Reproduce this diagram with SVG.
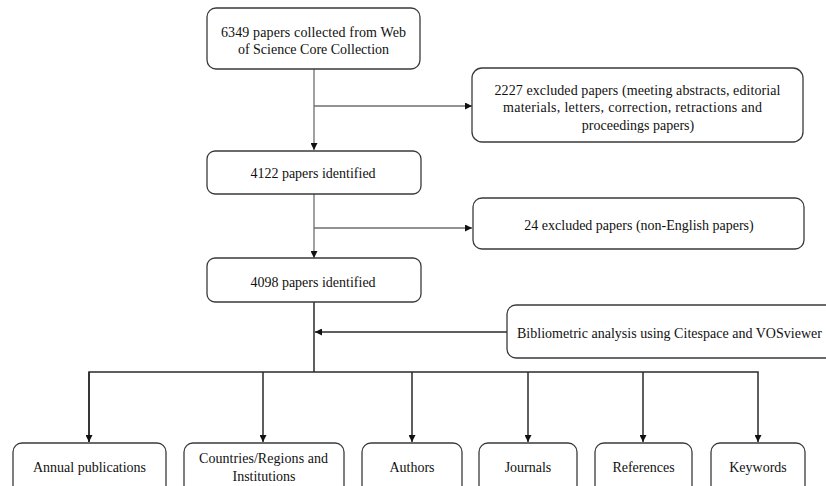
<svg xmlns="http://www.w3.org/2000/svg" width="826" height="486" viewBox="0 0 826 486">
<style>
.box{fill:#fff;stroke:#3a3a3a;stroke-width:1.3}
.t{font-family:"Liberation Serif","Times New Roman",serif;font-size:14px;fill:#111;text-anchor:middle}
.c1{fill:none;stroke:#6e6e6e;stroke-width:1.3}
.c2{fill:none;stroke:#2a2a2a;stroke-width:1.5}
</style>
<defs>
<marker id="ah" viewBox="0 0 10 10" refX="10" refY="5" markerWidth="7" markerHeight="7" markerUnits="userSpaceOnUse" orient="auto">
<path d="M0,0 L10,5 L0,10 z" fill="#111"/>
</marker>
</defs>
<rect width="826" height="486" fill="#fff"/>
<g id="connectors">
<path class="c1" d="M314,69 V150" marker-end="url(#ah)"/>
<path class="c1" d="M314,106 H472" marker-end="url(#ah)"/>
<path class="c1" d="M314,194 V258" marker-end="url(#ah)"/>
<path class="c1" d="M314,228 H472" marker-end="url(#ah)"/>
<path class="c2" d="M314,302 V372"/>
<path class="c2" d="M507,332 H315" marker-end="url(#ah)"/>
<path class="c2" d="M89,442 V372 H758 V442" marker-end="url(#ah)"/>
<path class="c2" d="M263,372 V442" marker-end="url(#ah)"/>
<path class="c2" d="M412,372 V442" marker-end="url(#ah)"/>
<path class="c2" d="M528,372 V442" marker-end="url(#ah)"/>
<path class="c2" d="M643,372 V442" marker-end="url(#ah)"/>
<path class="c2" d="M89,372 V442" marker-end="url(#ah)"/>
</g>
<g id="n1">
<rect class="box" x="207" y="8" width="213" height="61" rx="9"/>
<text class="t" x="313.5" y="37" textLength="185" lengthAdjust="spacing">6349 papers collected from Web</text>
<text class="t" x="313.5" y="54">of Science Core Collection</text>
</g>
<g id="n2">
<rect class="box" x="472" y="68" width="331" height="74" rx="10"/>
<text class="t" x="637.5" y="95" textLength="286" lengthAdjust="spacing">2227 excluded papers (meeting abstracts, editorial</text>
<text class="t" x="632.5" y="112" textLength="259" lengthAdjust="spacing">materials, letters, correction, retractions and</text>
<text class="t" x="638" y="130">proceedings papers)</text>
</g>
<g id="n3">
<rect class="box" x="207" y="151" width="214" height="43" rx="8"/>
<text class="t" x="313" y="178">4122 papers identified</text>
</g>
<g id="n4">
<rect class="box" x="473" y="198" width="331" height="51" rx="9"/>
<text class="t" x="639" y="230">24 excluded papers (non-English papers)</text>
</g>
<g id="n5">
<rect class="box" x="207" y="258" width="214" height="44" rx="8"/>
<text class="t" x="313" y="287">4098 papers identified</text>
</g>
<g id="n6">
<rect class="box" x="507" y="305" width="340" height="53" rx="9"/>
<text class="t" x="517" y="338" style="text-anchor:start" textLength="305" lengthAdjust="spacing">Bibliometric analysis using Citespace and VOSviewer</text>
</g>
<g id="n7">
<rect class="box" x="13" y="443" width="153" height="60" rx="9"/>
<text class="t" x="89.5" y="472">Annual publications</text>
</g>
<g id="n8">
<rect class="box" x="184" y="443" width="160" height="60" rx="9"/>
<text class="t" x="263.5" y="463" textLength="129" lengthAdjust="spacing">Countries/Regions and</text>
<text class="t" x="264" y="481">Institutions</text>
</g>
<g id="n9">
<rect class="box" x="362" y="443" width="100" height="60" rx="9"/>
<text class="t" x="412" y="472">Authors</text>
</g>
<g id="n10">
<rect class="box" x="479" y="443" width="98" height="60" rx="9"/>
<text class="t" x="528" y="472">Journals</text>
</g>
<g id="n11">
<rect class="box" x="595" y="443" width="97" height="60" rx="9"/>
<text class="t" x="643.5" y="472">References</text>
</g>
<g id="n12">
<rect class="box" x="711" y="443" width="94" height="60" rx="9"/>
<text class="t" x="758" y="472">Keywords</text>
</g>
</svg>
